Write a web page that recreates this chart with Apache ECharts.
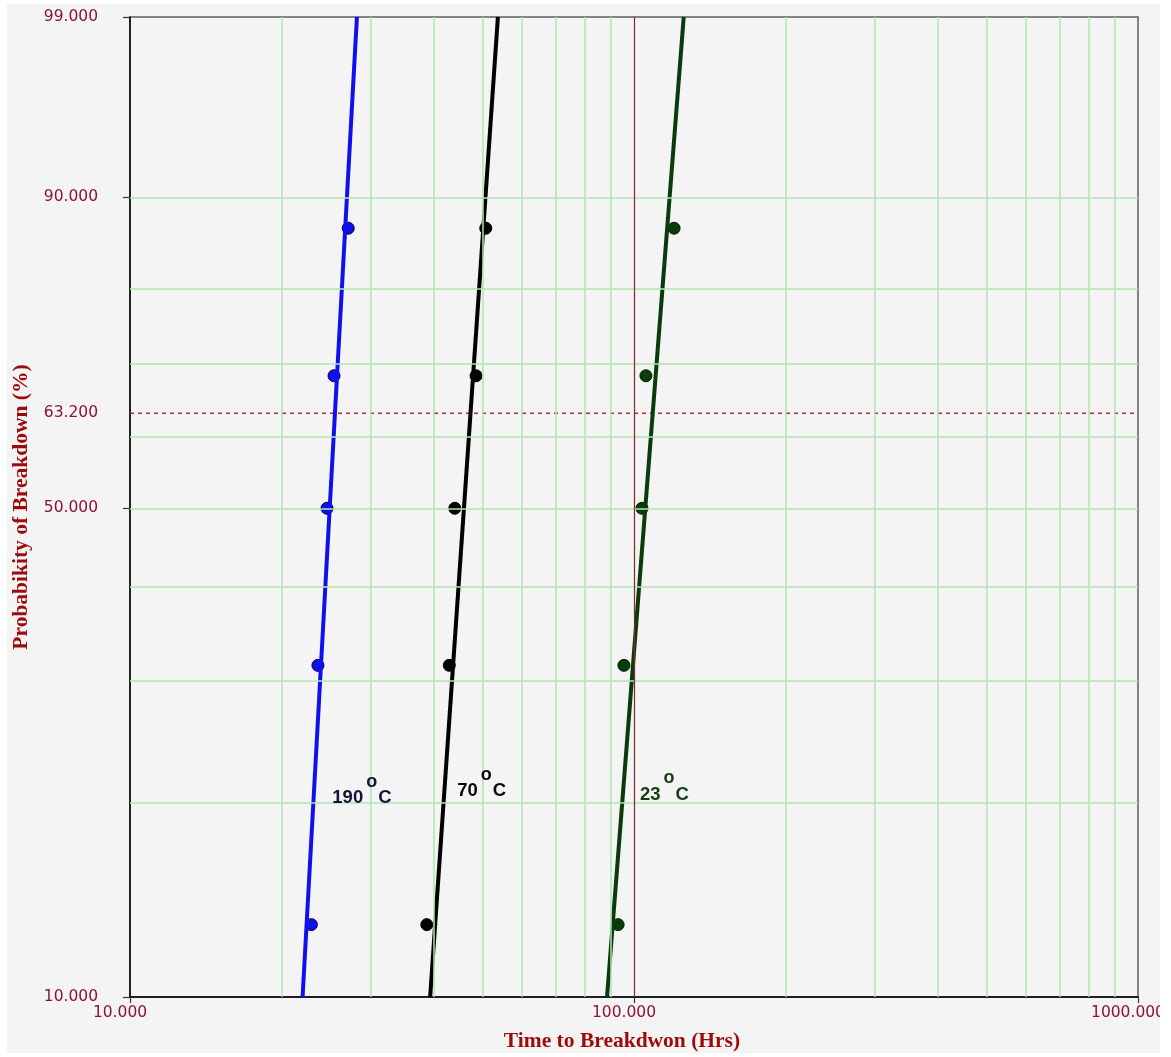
<!DOCTYPE html>
<html>
<head>
<meta charset="utf-8">
<script src="https://cdn.jsdelivr.net/npm/echarts@6/dist/echarts.min.js"></script>
<style>
  html, body { margin: 0; padding: 0; background: #ffffff; }
  #chart { position: absolute; left: 7px; top: 4px; width: 1153px; height: 1049px; }
</style>
</head>
<body>
<div id="chart"></div>
<script>
// ---- data ----
const probLevels = [13.0, 31.5, 50.0, 68.5, 87.0];          // % (plotting positions)
const times190 = [22.9, 23.6, 24.6, 25.4, 27.1];            // hrs, 190°C
const times70  = [38.8, 43.0, 44.1, 48.6, 50.8];            // hrs, 70°C
const times23  = [93.0, 95.5, 103.7, 105.6, 120.1];         // hrs, 23°C

const fitProbs = [10, 99];                                   // % ends of fitted lines
const fit190 = [22.0, 28.2];
const fit70  = [39.4, 53.7];
const fit23  = [88.4, 125.5];

const tempNames  = ['190', '70', '23'];
const labelTimes = [25.2, 44.6, 102.8];
const labelProbs = [20.3, 20.8, 20.55];

const xTickValues = [10, 100, 1000];
const xMinorGrid = [20, 30, 40, 50, 60, 70, 80, 90, 200, 300, 400, 500, 600, 700, 800, 900];
const yLabelValues = [10, 50, 63.2, 90, 99];
const yTickValues = [10, 50, 90, 99];
const yGrid = [20, 30, 40, 50, 60, 70, 80, 90];
const refTime = 100;
const refProb = 63.2;
const probMin = 10, probMax = 99;
const timeMin = 10, timeMax = 1000;

// Weibull probability transform
const T = p => Math.log(-Math.log(1 - p / 100));
const invT = v => (1 - Math.exp(-Math.exp(v))) * 100;

const lineColors = ['#1010ee', '#000000', '#0b3a0b'];
const textColors = ['#14143a', '#0a0a0a', '#123e12'];
const markerBorder = ['#00003a', '#000000', '#002000'];
const allTimes = [times190, times70, times23];
const allFits = [fit190, fit70, fit23];

const series = [];

// grid lines (dummy carrier series)
series.push({
  type: 'line',
  data: [[timeMin, T(probMin)]],
  symbol: 'none',
  lineStyle: { opacity: 0 },
  silent: true,
  z: 1,
  markLine: {
    silent: true,
    symbol: ['none', 'none'],
    label: { show: false },
    animation: false,
    data: [
      ...xMinorGrid.map(v => ({ xAxis: v, lineStyle: { color: '#b2e4b2', width: 1.5, type: 'solid' } })),
      ...yGrid.map(v => ({ yAxis: T(v), lineStyle: { color: '#b2e4b2', width: 1.5, type: 'solid' } })),
      { xAxis: refTime, lineStyle: { color: '#7a2b2b', width: 1.2, type: 'solid' } }
    ]
  }
});

// 63.2 % reference line (dashed)
series.push({
  type: 'line',
  data: [[timeMin, T(refProb)], [timeMax, T(refProb)]],
  symbol: 'none',
  silent: true,
  z: 2,
  lineStyle: { color: '#b02a2a', width: 1.5, type: [4, 4], cap: 'butt' }
});

// markers
allTimes.forEach((arr, i) => {
  series.push({
    type: 'scatter',
    data: arr.map((t, k) => [t, T(probLevels[k])]),
    symbol: 'circle',
    symbolSize: 12,
    itemStyle: { color: lineColors[i], borderColor: markerBorder[i], borderWidth: 1, opacity: 1 },
    z: 3,
    silent: true
  });
});

// fitted lines
allFits.forEach((arr, i) => {
  series.push({
    type: 'line',
    data: arr.map((t, k) => [t, T(fitProbs[k])]),
    symbol: 'none',
    lineStyle: { color: lineColors[i], width: 4 },
    z: 4,
    silent: true
  });
});

// temperature labels
tempNames.forEach((nm, i) => {
  const c = textColors[i];
  series.push({
    type: 'scatter',
    data: [[labelTimes[i], T(labelProbs[i])]],
    symbolSize: 0,
    z: 5,
    silent: true,
    itemStyle: { opacity: 1 },
    label: {
      show: true,
      position: 'right',
      distance: 0,
      opacity: 1,
      formatter: '{n|' + nm + '}{s|o}{c|C}',
      rich: {
        n: { fontFamily: 'Liberation Sans', fontWeight: 'bold', fontSize: 18.5, color: c },
        s: { fontFamily: 'Liberation Sans', fontWeight: 'bold', fontSize: 18, color: c, padding: [0, 1, 32, 3] },
        c: { fontFamily: 'Liberation Sans', fontWeight: 'bold', fontSize: 18.5, color: c }
      }
    }
  });
});

const chart = echarts.init(document.getElementById('chart'), null, { renderer: 'canvas' });
chart.setOption({
  animation: false,
  backgroundColor: '#f4f4f4',
  grid: {
    left: 123, right: 22, top: 13, bottom: 56,
    containLabel: false,
    outerBoundsMode: 'none',
    show: true, borderColor: '#5e5e5e', borderWidth: 1.5, backgroundColor: 'transparent'
  },
  xAxis: {
    type: 'log',
    logBase: 10,
    min: timeMin,
    max: timeMax,
    name: 'Time to Breakdwon (Hrs)',
    nameLocation: 'middle',
    nameGap: 33,
    nameTextStyle: {
      fontFamily: 'Liberation Serif', fontWeight: 'bold', fontSize: 21.5, color: '#9e0a0a',
      padding: [0, 24, 0, 0]
    },
    axisLine: { show: true, onZero: false, lineStyle: { color: '#000', width: 1.5 } },
    axisTick: { show: true, length: 6, lineStyle: { color: '#333', width: 1.2 } },
    axisLabel: {
      margin: 8,
      fontFamily: 'DejaVu Sans', fontSize: 15.5, color: '#8b1530',
      padding: [0, 20, 0, 0],
      formatter: v => Number(v).toFixed(3)
    },
    splitLine: { show: false }
  },
  yAxis: {
    type: 'value',
    min: T(probMin),
    max: T(probMax),
    name: 'Probabikity of Breakdown (%)',
    nameLocation: 'middle',
    nameGap: 97,
    nameTextStyle: { fontFamily: 'Liberation Serif', fontWeight: 'bold', fontSize: 21.5, color: '#9e0a0a' },
    axisLine: { show: true, onZero: false, lineStyle: { color: '#000', width: 1.5 } },
    axisTick: { show: true, length: 7, customValues: yTickValues.map(T), lineStyle: { color: '#333', width: 1.2 } },
    axisLabel: {
      margin: 32,
      customValues: yLabelValues.map(T),
      fontFamily: 'DejaVu Sans', fontSize: 15.5, color: '#8b1530',
      formatter: v => invT(v).toFixed(3)
    },
    splitLine: { show: false }
  },
  series: series
});
</script>
</body>
</html>
